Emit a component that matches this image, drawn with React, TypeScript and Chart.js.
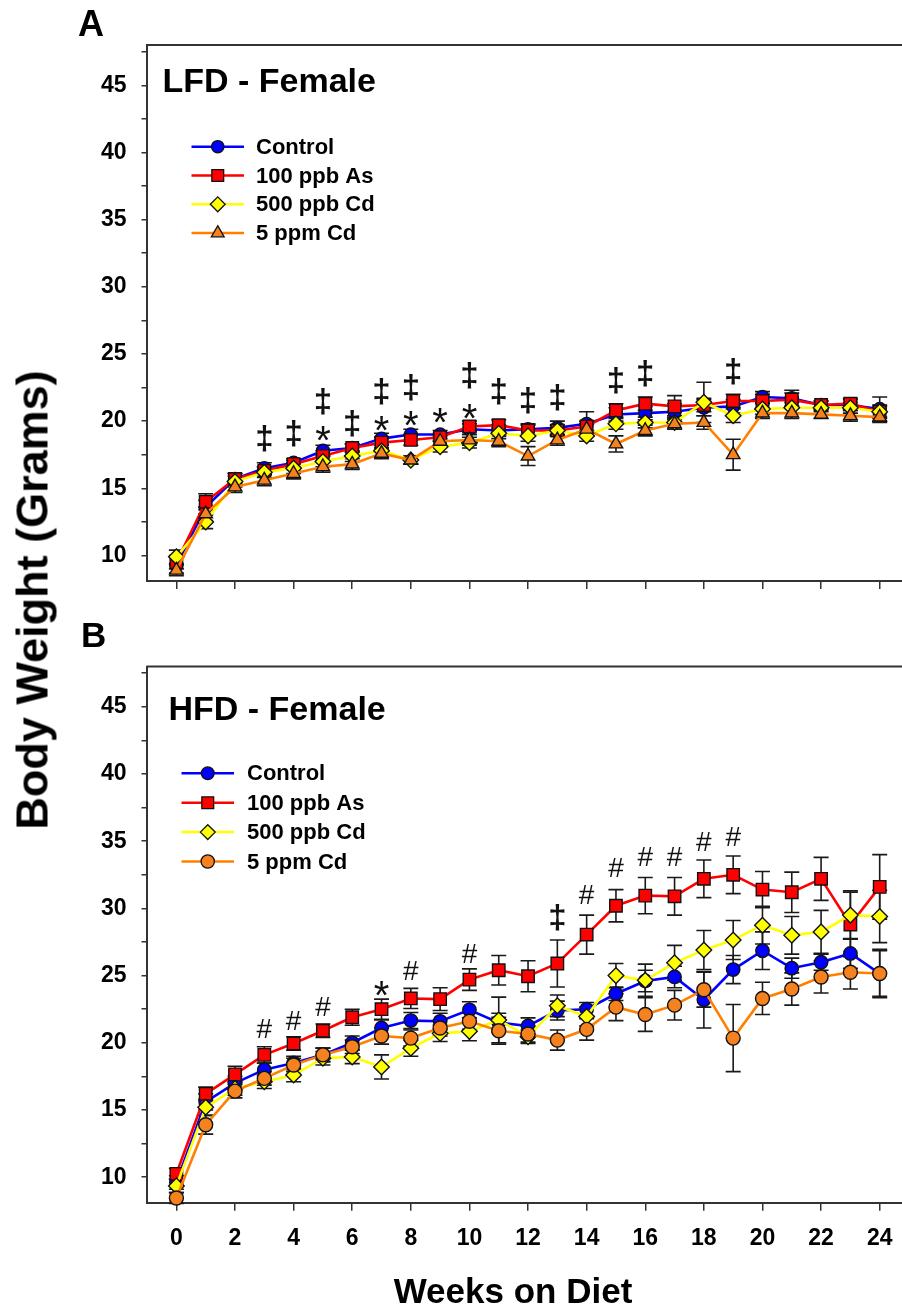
import React, { useEffect, useRef } from 'react';
import { Chart, registerables } from 'chart.js';
import { drawPoint } from 'chart.js/helpers';

Chart.register(...registerables);

// ---- data -------------------------------------------------------------
const WEEKS = [0, 1, 2, 3, 4, 5, 6, 7, 8, 9, 10, 11, 12, 13, 14, 15, 16, 17, 18, 19, 20, 21, 22, 23, 24];
const X_TICKS = [0, 2, 4, 6, 8, 10, 12, 14, 16, 18, 20, 22, 24];
const Y_TICKS = [10, 12.5, 15, 17.5, 20, 22.5, 25, 27.5, 30, 32.5, 35, 37.5, 40, 42.5, 45, 47.5];
const SERIES_NAMES = ['Control', '100 ppb As', '500 ppb Cd', '5 ppm Cd'];

// Low-fat diet, female (mean body weight and SEM, grams)
const LFD_CONTROL = [9.3, 13.6, 15.7, 16.5, 16.9, 17.8, 18.0, 18.7, 19.0, 19.0, 19.4, 19.3, 19.4, 19.5, 19.8, 20.5, 20.6, 20.7, 21.0, 21.1, 21.8, 21.7, 21.2, 21.2, 20.9];
const LFD_CONTROL_SEM = [0.6, 0.5, 0.4, 0.4, 0.3, 0.4, 0.3, 0.4, 0.4, 0.3, 0.4, 0.4, 0.4, 0.5, 0.9, 0.5, 0.5, 0.6, 0.6, 0.5, 0.4, 0.6, 0.3, 0.4, 0.9];
const LFD_AS = [9.5, 14.0, 15.7, 16.3, 16.8, 17.4, 18.0, 18.4, 18.6, 18.8, 19.6, 19.7, 19.3, 19.3, 19.6, 20.8, 21.3, 21.1, 21.2, 21.5, 21.5, 21.6, 21.2, 21.3, 20.7];
const LFD_AS_SEM = [0.5, 0.6, 0.4, 0.3, 0.3, 0.4, 0.3, 0.4, 0.4, 0.3, 0.4, 0.4, 0.4, 0.4, 0.4, 0.5, 0.5, 0.8, 0.5, 0.5, 0.5, 0.5, 0.3, 0.4, 0.5];
const LFD_CD500 = [9.9, 12.5, 15.5, 16.2, 16.5, 17.0, 17.4, 17.8, 17.1, 18.1, 18.4, 19.1, 18.9, 19.3, 18.9, 19.8, 19.9, 19.9, 21.4, 20.4, 20.9, 21.0, 21.0, 21.0, 20.7];
const LFD_CD500_SEM = [0.5, 0.5, 0.4, 0.4, 0.4, 0.4, 0.4, 0.4, 0.3, 0.4, 0.4, 0.4, 0.4, 0.4, 0.4, 0.4, 0.4, 0.5, 1.5, 0.5, 0.4, 0.4, 0.3, 0.4, 0.4];
const LFD_CD5 = [8.9, 13.1, 15.1, 15.6, 16.1, 16.6, 16.8, 17.6, 17.1, 18.5, 18.6, 18.5, 17.4, 18.6, 19.4, 18.3, 19.3, 19.8, 19.9, 17.5, 20.6, 20.6, 20.5, 20.4, 20.3];
const LFD_CD5_SEM = [0.4, 0.5, 0.4, 0.4, 0.4, 0.4, 0.4, 0.4, 0.3, 0.4, 0.4, 0.4, 0.7, 0.4, 0.4, 0.6, 0.4, 0.4, 0.5, 1.15, 0.4, 0.4, 0.3, 0.4, 0.4];

// High-fat diet, female
const HFD_CONTROL = [9.6, 15.6, 17.0, 18.0, 18.5, 19.1, 20.0, 21.1, 21.65, 21.6, 22.45, 21.5, 21.25, 22.4, 22.5, 23.65, 24.6, 24.9, 23.2, 25.45, 26.85, 25.55, 26.0, 26.65, 25.15];
const HFD_CONTROL_SEM = [0.5, 0.6, 0.5, 0.5, 0.5, 0.5, 0.5, 0.6, 0.6, 0.6, 0.6, 0.7, 0.6, 0.7, 0.5, 0.5, 0.8, 0.8, 2.1, 1.05, 1.4, 0.75, 0.6, 1.1, 1.8];
const HFD_AS = [10.25, 16.2, 17.65, 19.1, 19.95, 20.9, 21.9, 22.5, 23.3, 23.25, 24.7, 25.4, 24.95, 25.9, 28.05, 30.2, 30.95, 30.9, 32.2, 32.5, 31.4, 31.2, 32.2, 28.8, 31.6];
const HFD_AS_SEM = [0.4, 0.5, 0.6, 0.6, 0.5, 0.5, 0.6, 0.75, 0.75, 0.85, 0.8, 1.1, 1.15, 1.75, 1.45, 1.2, 1.35, 1.4, 1.4, 1.4, 1.35, 1.5, 1.6, 2.4, 2.4];
const HFD_CD500 = [9.35, 15.2, 16.6, 17.1, 17.6, 18.85, 18.95, 18.2, 19.6, 20.7, 20.85, 21.7, 20.45, 22.75, 21.95, 25.0, 24.65, 25.95, 26.9, 27.65, 28.75, 28.0, 28.25, 29.5, 29.4];
const HFD_CD500_SEM = [0.5, 0.6, 0.5, 0.5, 0.5, 0.5, 0.5, 0.9, 0.6, 0.6, 0.7, 1.7, 0.5, 0.8, 0.7, 0.9, 1.2, 1.3, 1.45, 1.45, 1.4, 1.4, 1.6, 1.8, 1.95];
const HFD_CD5 = [8.45, 13.9, 16.4, 17.35, 18.35, 19.1, 19.7, 20.5, 20.35, 21.1, 21.6, 20.9, 20.65, 20.2, 21.0, 22.65, 22.1, 22.8, 23.95, 20.35, 23.3, 24.0, 24.9, 25.25, 25.15];
const HFD_CD5_SEM = [0.4, 0.7, 0.5, 0.5, 0.5, 0.5, 0.5, 0.6, 0.6, 0.6, 0.6, 1.0, 0.6, 0.75, 0.8, 1.0, 1.25, 1.1, 1.3, 2.5, 1.2, 1.2, 1.2, 1.25, 1.7];

// Significance symbols (week, symbol, vertical position in grams)
const LFD_MARK_WEEKS = [3, 4, 5, 5, 6, 7, 7, 8, 8, 9, 10, 10, 11, 12, 13, 15, 16, 19];
const LFD_MARK_TEXT = ['‡', '‡', '‡', '*', '‡', '‡', '*', '‡', '*', '*', '‡', '*', '‡', '‡', '‡', '‡', '‡', '‡'];
const LFD_MARK_Y = [18.66, 19.03, 21.42, 19.25, 19.78, 22.16, 20.0, 22.46, 20.37, 20.6, 23.36, 20.9, 22.16, 21.5, 21.7, 22.99, 23.5, 23.66];

const HFD_MARK_WEEKS = [3, 4, 5, 7, 8, 10, 13, 14, 15, 16, 17, 18, 19];
const HFD_MARK_TEXT = ['#', '#', '#', '*', '#', '#', '‡', '#', '#', '#', '#', '#', '#'];
const HFD_MARK_Y = [21.08, 21.7, 22.75, 24.2, 25.45, 26.7, 29.3, 31.05, 33.1, 33.9, 33.87, 35.04, 35.4];

// ---- styles -----------------------------------------------------------
const FONT = '"Liberation Sans", Arial, Helvetica, sans-serif';
const LINE_COLORS = ['#0000ff', '#ff0000', '#ffff00', '#ff8000'];
const FILL_COLORS = ['#0000ff', '#ff0000', '#ffff00', '#f5821f'];
const OUTLINE = '#111111';

type Marker = { style: string; radius: number };
const LFD_MARKERS: Marker[] = [
  { style: 'circle', radius: 6.5 },
  { style: 'rect', radius: 8.8 },
  { style: 'rectRot', radius: 7.8 },
  { style: 'triangle', radius: 7.8 },
];
const HFD_MARKERS: Marker[] = [
  { style: 'circle', radius: 6.7 },
  { style: 'rect', radius: 8.8 },
  { style: 'rectRot', radius: 7.8 },
  { style: 'circle', radius: 7 },
];

const MARK_FONTS: Record<string, { size: number; weight: string; lift: number }> = {
  '‡': { size: 33, weight: 'bold', lift: 0.3 },
  '*': { size: 40, weight: 'normal', lift: 0.57 },
  '#': { size: 28, weight: 'normal', lift: 0.36 },
};

type Panel = {
  title: string;
  means: number[][];
  sems: number[][];
  markers: Marker[];
  markWeeks: number[];
  markText: string[];
  markY: number[];
  canvasHeight: number;
  padTop: number;
  xAxisHeight: number;
  showXLabels: boolean;
  titleDx: number;
  titleDy: number;
  legendLineX1: number;
  legendLineX2: number;
  legendTextX: number;
  legendRow0: number;
  legendRowStep: number;
};

const LFD_PANEL: Panel = {
  title: 'LFD - Female',
  means: [LFD_CONTROL, LFD_AS, LFD_CD500, LFD_CD5],
  sems: [LFD_CONTROL_SEM, LFD_AS_SEM, LFD_CD500_SEM, LFD_CD5_SEM],
  markers: LFD_MARKERS,
  markWeeks: LFD_MARK_WEEKS,
  markText: LFD_MARK_TEXT,
  markY: LFD_MARK_Y,
  canvasHeight: 620,
  padTop: 45,
  xAxisHeight: 39,
  showXLabels: false,
  titleDx: 16,
  titleDy: 46.7,
  legendLineX1: 45,
  legendLineX2: 97.5,
  legendTextX: 109.5,
  legendRow0: 101.7,
  legendRowStep: 28.8,
};

const HFD_PANEL: Panel = {
  title: 'HFD - Female',
  means: [HFD_CONTROL, HFD_AS, HFD_CD500, HFD_CD5],
  sems: [HFD_CONTROL_SEM, HFD_AS_SEM, HFD_CD500_SEM, HFD_CD5_SEM],
  markers: HFD_MARKERS,
  markWeeks: HFD_MARK_WEEKS,
  markText: HFD_MARK_TEXT,
  markY: HFD_MARK_Y,
  canvasHeight: 690,
  padTop: 46.5,
  xAxisHeight: 107.3,
  showXLabels: true,
  titleDx: 22,
  titleDy: 53.5,
  legendLineX1: 35,
  legendLineX2: 87.5,
  legendTextX: 100.5,
  legendRow0: 106.8,
  legendRowStep: 29.4,
};

// series 0 is listed first in the legend but drawn underneath the others
const DRAW_ORDER = [3, 2, 1, 0];
const CANVAS_W = 930;

function panelPlugin(panel: Panel) {
  return {
    id: 'panelDecor',
    beforeDatasetsDraw(chart: any) {
      const { ctx, scales } = chart;
      const xs = scales.x;
      const ys = scales.y;
      ctx.save();
      ctx.strokeStyle = '#1a1a1a';
      ctx.lineWidth = 1.6;
      DRAW_ORDER.forEach((k) => {
        const mean = panel.means[k];
        const sem = panel.sems[k];
        WEEKS.forEach((w, i) => {
          const x = xs.getPixelForValue(w);
          const yt = ys.getPixelForValue(mean[i] + sem[i]);
          const yb = ys.getPixelForValue(mean[i] - sem[i]);
          ctx.beginPath();
          ctx.moveTo(x, yt);
          ctx.lineTo(x, yb);
          ctx.moveTo(x - 7.5, yt);
          ctx.lineTo(x + 7.5, yt);
          ctx.moveTo(x - 7.5, yb);
          ctx.lineTo(x + 7.5, yb);
          ctx.stroke();
        });
      });
      ctx.restore();
    },
    afterDatasetsDraw(chart: any) {
      const { ctx, scales } = chart;
      ctx.save();
      ctx.fillStyle = '#111';
      ctx.textAlign = 'center';
      ctx.textBaseline = 'alphabetic';
      panel.markWeeks.forEach((w, i) => {
        const sym = panel.markText[i];
        const f = MARK_FONTS[sym];
        ctx.font = `${f.weight} ${f.size}px ${FONT}`;
        const x = scales.x.getPixelForValue(w);
        const yc = scales.y.getPixelForValue(panel.markY[i]);
        ctx.fillText(sym, x, yc + f.lift * f.size);
      });
      ctx.restore();
    },
    afterDraw(chart: any) {
      const { ctx, chartArea } = chart;
      const { left, top, right, bottom } = chartArea;
      ctx.save();
      // frame (top and right sides; left/bottom come from the axes)
      ctx.strokeStyle = '#333';
      ctx.lineWidth = 2;
      ctx.beginPath();
      ctx.moveTo(left, top);
      ctx.lineTo(right, top);
      ctx.lineTo(right, bottom);
      ctx.stroke();

      // panel title
      ctx.fillStyle = '#000';
      ctx.font = `bold 34px ${FONT}`;
      ctx.textAlign = 'left';
      ctx.textBaseline = 'alphabetic';
      ctx.fillText(panel.title, left + panel.titleDx, top + panel.titleDy);

      // legend
      SERIES_NAMES.forEach((name, k) => {
        const y = top + panel.legendRow0 + k * panel.legendRowStep;
        const x1 = left + panel.legendLineX1;
        const x2 = left + panel.legendLineX2;
        ctx.strokeStyle = LINE_COLORS[k];
        ctx.lineWidth = 2.5;
        ctx.beginPath();
        ctx.moveTo(x1, y);
        ctx.lineTo(x2, y);
        ctx.stroke();
        const m = panel.markers[k];
        ctx.fillStyle = FILL_COLORS[k];
        ctx.strokeStyle = OUTLINE;
        ctx.lineWidth = 1.3;
        drawPoint(ctx, { pointStyle: m.style as any, radius: m.radius * 0.95, rotation: 0, borderWidth: 1.3 }, (x1 + x2) / 2, y);
        ctx.fillStyle = '#000';
        ctx.font = `bold 22px ${FONT}`;
        ctx.textBaseline = 'middle';
        ctx.fillText(name, left + panel.legendTextX, y + 1);
      });
      ctx.restore();
    },
  };
}

function buildChart(canvas: HTMLCanvasElement, panel: Panel) {
  const datasets = DRAW_ORDER.map((k) => ({
    label: SERIES_NAMES[k],
    data: WEEKS.map((w, i) => ({ x: w, y: panel.means[k][i] })),
    borderColor: LINE_COLORS[k],
    backgroundColor: FILL_COLORS[k],
    borderWidth: 2.6,
    pointStyle: panel.markers[k].style,
    pointRadius: panel.markers[k].radius,
    pointBackgroundColor: FILL_COLORS[k],
    pointBorderColor: OUTLINE,
    pointBorderWidth: 1.4,
    tension: 0,
    fill: false,
    clip: false as any,
  }));

  const tickFont = { family: FONT, size: 23, weight: 'bold' as const };

  return new Chart(canvas, {
    type: 'line',
    data: { datasets: datasets as any },
    options: {
      responsive: false,
      maintainAspectRatio: false,
      animation: false,
      devicePixelRatio: 1,
      events: [],
      layout: { padding: { left: 0, top: panel.padTop, right: CANVAS_W - 909, bottom: 0 } },
      plugins: {
        legend: { display: false },
        tooltip: { enabled: false },
        title: { display: false },
      },
      scales: {
        x: {
          type: 'linear',
          min: -1.02,
          max: 25,
          afterBuildTicks: (axis: any) => {
            axis.ticks = X_TICKS.map((v) => ({ value: v }));
          },
          afterFit: (axis: any) => {
            axis.height = panel.xAxisHeight;
          },
          ticks: {
            display: panel.showXLabels,
            autoSkip: false,
            maxRotation: 0,
            font: tickFont,
            color: '#000',
            padding: 14,
          },
          grid: { drawOnChartArea: false, drawTicks: true, tickLength: 8, color: '#333', lineWidth: 1.5 },
          border: { display: true, color: '#333', width: 2 },
        },
        y: {
          type: 'linear',
          min: 8.1,
          max: 48,
          afterBuildTicks: (axis: any) => {
            axis.ticks = Y_TICKS.map((v) => ({ value: v }));
          },
          afterFit: (axis: any) => {
            axis.width = 146.5;
          },
          ticks: {
            autoSkip: false,
            font: tickFont,
            color: '#000',
            padding: 15,
            callback: (v: any) => (Number(v) % 5 === 0 ? String(v) : ''),
          },
          grid: { drawOnChartArea: false, drawTicks: true, tickLength: 5, color: '#333', lineWidth: 1.5 },
          border: { display: true, color: '#333', width: 2 },
        },
      },
    },
    plugins: [panelPlugin(panel)],
  } as any);
}

export default function App() {
  const refA = useRef<HTMLCanvasElement>(null);
  const refB = useRef<HTMLCanvasElement>(null);

  useEffect(() => {
    const a = buildChart(refA.current as HTMLCanvasElement, LFD_PANEL);
    const b = buildChart(refB.current as HTMLCanvasElement, HFD_PANEL);
    return () => {
      a.destroy();
      b.destroy();
    };
  }, []);

  const text: React.CSSProperties = {
    position: 'absolute',
    fontFamily: FONT,
    fontWeight: 'bold',
    lineHeight: 1,
    whiteSpace: 'nowrap',
    color: '#000',
  };

  return (
    <div style={{ position: 'absolute', left: 0, top: 0, width: 902, height: 1310, overflow: 'hidden', background: '#fff' }}>
      <canvas ref={refA} width={CANVAS_W} height={LFD_PANEL.canvasHeight} style={{ position: 'absolute', left: 0, top: 0 }} />
      <canvas ref={refB} width={CANVAS_W} height={HFD_PANEL.canvasHeight} style={{ position: 'absolute', left: 0, top: 620 }} />
      <div style={{ ...text, left: 78, top: 5.5, fontSize: 36 }}>A</div>
      <div style={{ ...text, left: 81, top: 617, fontSize: 35 }}>B</div>
      <div
        style={{
          ...text,
          left: 32,
          top: 600,
          fontSize: 45,
          transform: 'translate(-50%, -50%) rotate(-90deg)',
        }}
      >
        Body Weight (Grams)
      </div>
      <div style={{ ...text, left: 513, top: 1273, fontSize: 35, transform: 'translateX(-50%)' }}>Weeks on Diet</div>
    </div>
  );
}
